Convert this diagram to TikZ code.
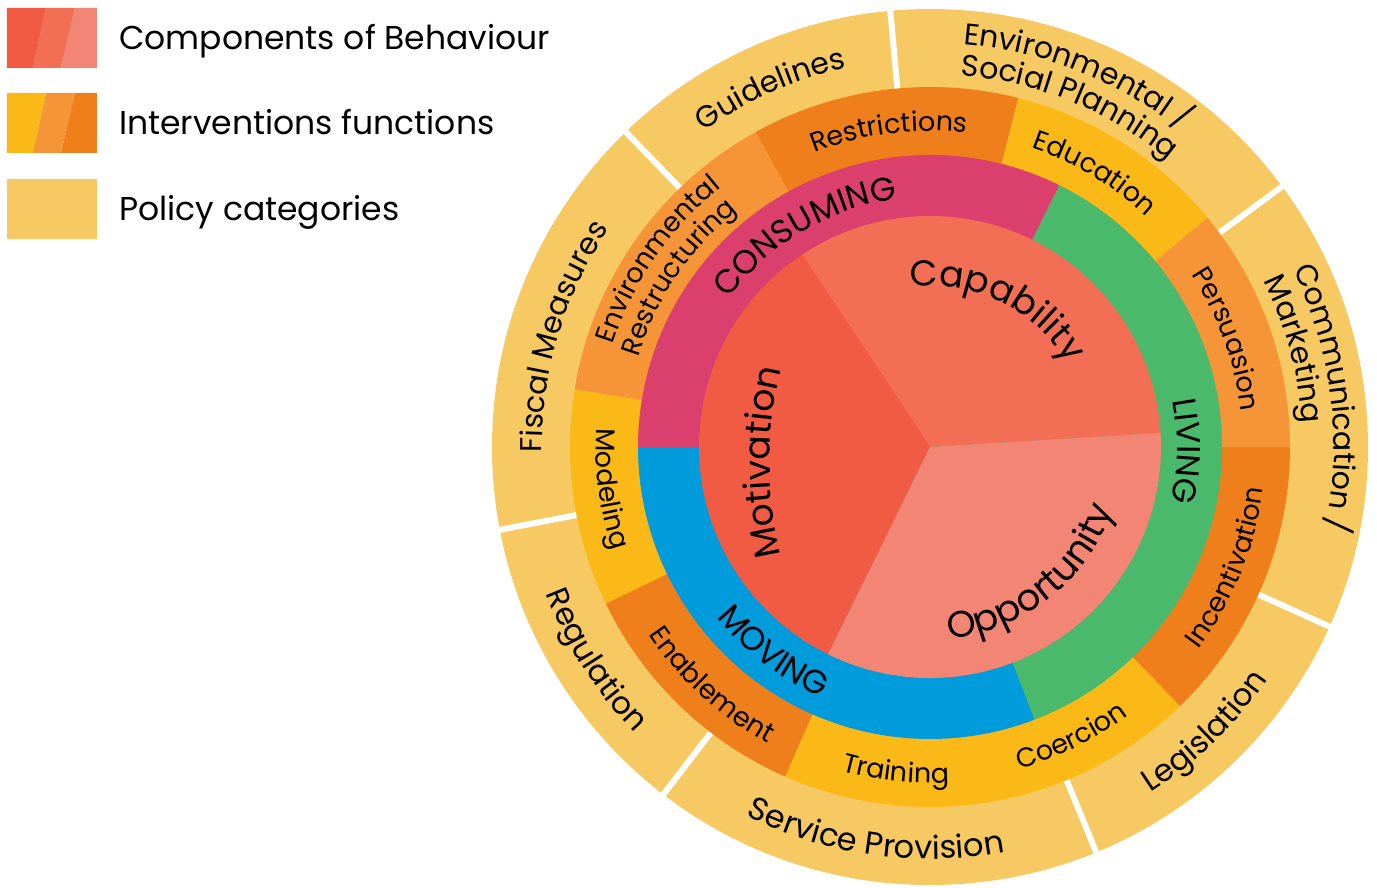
\documentclass[tikz,border=0pt]{standalone}
\usepackage{fontspec}
\setmainfont{Poppins}
\usetikzlibrary{decorations.text}
\definecolor{cmot}{HTML}{F15A43}
\definecolor{ccap}{HTML}{F26F55}
\definecolor{copp}{HTML}{F28573}
\definecolor{cpink}{HTML}{DB3F6E}
\definecolor{cgreen}{HTML}{4BB96B}
\definecolor{cblue}{HTML}{009BDB}
\definecolor{cyel}{HTML}{FBB917}
\definecolor{cmed}{HTML}{F69537}
\definecolor{cdark}{HTML}{EF7F1A}
\definecolor{cpol}{HTML}{F6C963}
% pie wedge: colour, start, end, radius
\newcommand{\wedgefill}[4]{\fill[#1] (0,0) -- (#2:#4) arc[start angle=#2,end angle=#3,radius=#4] -- cycle;}
% clockwise text (tops outward), centred: radius, centre angle, size, text
\newcommand{\cwtext}[4]{\path[decorate,decoration={text along path,text align=center,text={|\fontsize{#3}{#3}\selectfont|#4}}] ({#2+80}:#1) arc[start angle={#2+80},end angle={#2-80},radius=#1];}
% counter-clockwise text (tops inward), centred
\newcommand{\ccwtext}[4]{\path[decorate,decoration={text along path,text align=center,text={|\fontsize{#3}{#3}\selectfont|#4}}] ({#2-80}:#1) arc[start angle={#2-80},end angle={#2+80},radius=#1];}
% clockwise text, left aligned at a start angle
\newcommand{\cwtextl}[4]{\path[decorate,decoration={text along path,text align=left,text={|\fontsize{#3}{#3}\selectfont|#4}}] (#2:#1) arc[start angle=#2,end angle={#2-150},radius=#1];}
\tikzset{
  legtext/.style={anchor=base west,inner sep=0pt,font=\fontsize{33}{33}\selectfont},
  sep/.style={draw=white,line width=6pt},
}
\begin{document}
\begin{tikzpicture}[x=1pt,y=1pt]
\useasboundingbox (-930,-440) rectangle (447,447);
% legend
\fill[cmot] (-923,439) -- (-884,439) -- (-897,379) -- (-923,379) -- cycle;
\fill[ccap] (-884,439) -- (-855,439) -- (-869,379) -- (-897,379) -- cycle;
\fill[copp] (-855,439) -- (-833,439) -- (-833,379) -- (-869,379) -- cycle;
\fill[cyel] (-923,354) -- (-884,354) -- (-897,294) -- (-923,294) -- cycle;
\fill[cmed] (-884,354) -- (-855,354) -- (-869,294) -- (-897,294) -- cycle;
\fill[cdark] (-855,354) -- (-833,354) -- (-833,294) -- (-869,294) -- cycle;
\fill[cpol] (-923,268) rectangle (-833,208);
\node[legtext] (leg1) at (-811,397.5) {Components of Behaviour};
\node[legtext] (leg2) at (-811,312.5) {Interventions functions};
\node[legtext] (leg3) at (-811,226) {Policy categories};
% policy ring
\fill[cpol] (0,0) circle[radius=438];
\foreach \a in {134,95.2,36.5,-24.2,-67.7,232.5,190.9} \draw[sep] (\a:355) -- (\a:445);
% intervention ring
\wedgefill{cdark}{75.8}{119}{360}
\wedgefill{cmed}{119}{170.8}{360}
\wedgefill{cyel}{170.8}{205.8}{360}
\wedgefill{cdark}{205.8}{246.3}{360}
\wedgefill{cyel}{246.3}{314}{360}
\wedgefill{cdark}{314}{360}{360}
\wedgefill{cmed}{0}{39.6}{360}
\wedgefill{cyel}{39.6}{75.8}{360}
% domain ring
\wedgefill{cpink}{63.7}{180}{292}
\wedgefill{cblue}{180}{291}{292}
\wedgefill{cgreen}{-69}{63.7}{292}
% components
\wedgefill{ccap}{3.5}{123.6}{231}
\wedgefill{cmot}{123.6}{243.8}{231}
\wedgefill{copp}{243.8}{363.5}{231}
% component labels
\cwtext{161}{64}{36}{Capability}
\ccwtext{193}{-51.5}{37}{Opportunity}
\path[decorate,decoration={text along path,text align=center,text={|\fontsize{36}{36}\selectfont|Motivation}}] (240,-15) ++(205:400) arc[start angle=205,end angle=155,radius=400];
% domain labels
\cwtext{250}{120.6}{33}{CONSUMING}
\cwtext{247}{-1}{33}{LIVING}
\ccwtext{273}{232.6}{33}{MOVING}
% intervention labels
\cwtext{316}{97.4}{27}{Restrictions}
\cwtext{316}{59}{27}{Education}
\cwtext{313}{20}{27}{Persuasion}
\ccwtext{336}{-22}{27}{Incentivation}
\ccwtext{334}{-64}{27}{Coercion}
\ccwtext{336}{264}{27}{Training}
\ccwtext{338}{227.5}{27}{Enablement}
\ccwtext{334}{187.5}{27}{Modeling}
\cwtext{333}{145.4}{27}{Environmental}
\cwtext{305}{146}{27}{Restructuring}
% policy labels
\cwtext{388}{114}{30}{Guidelines}
\cwtextl{404}{85.3}{30}{Environmental /}
\cwtextl{373}{85.3}{30}{Social Planning}
\cwtextl{404}{26}{30}{Communication /}
\cwtextl{373}{26.5}{30}{Marketing}
\ccwtext{410}{-46}{31}{Legislation}
\ccwtext{412}{262}{32}{Service Provision}
\ccwtext{411}{212.5}{31}{Regulation}
\cwtext{388}{163.3}{30}{Fiscal Measures}
\end{tikzpicture}
\end{document}
